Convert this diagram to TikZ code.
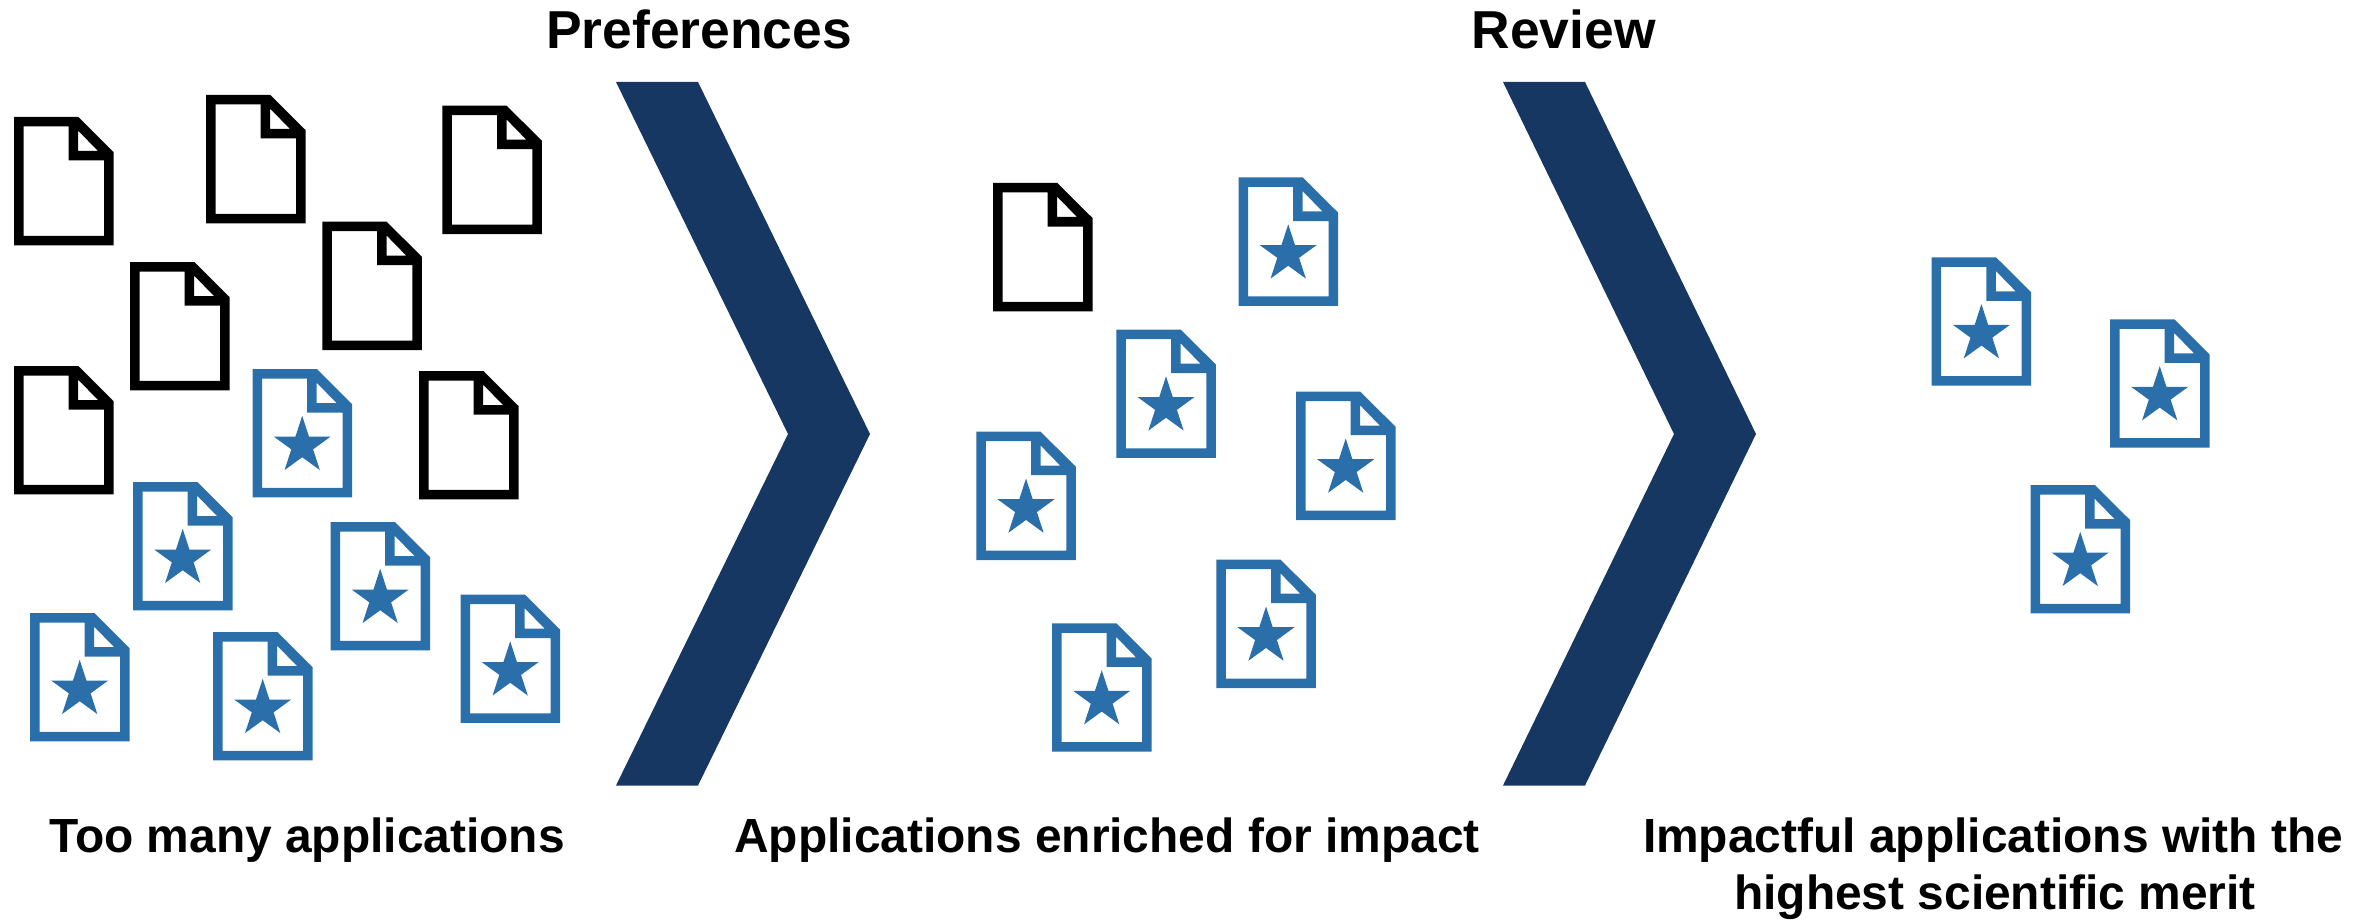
\documentclass[tikz,border=0pt]{standalone}
\usepackage{fontspec}
\setmainfont{Liberation Sans}
\definecolor{navy}{HTML}{173763}
\definecolor{iconblue}{HTML}{2A6EAA}
\tikzset{
  x=1pt,y=-1pt,
  lab/.style={font=\fontsize{47.9}{57.5}\selectfont\bfseries,inner sep=0pt,anchor=base,align=center},
  head/.style={font=\fontsize{53.4}{60}\selectfont\bfseries,inner sep=0pt,anchor=base west},
  chev/.style={fill=navy},
  pics/docicon/.style={code={
    \fill[#1,even odd rule] (0,0) -- (64.3,0) -- (99.5,35) -- (99.5,128.3) -- (0,128.3) -- cycle
      (9.5,9.5) -- (54.7,9.5) -- (54.7,43.5) -- (90,43.5) -- (90,118.8) -- (9.5,118.8) -- cycle
      (64.2,13.7) -- (84,34) -- (64.2,34) -- cycle;
  }},
  pics/stardoc/.style={code={
    \pic {docicon=iconblue};
    \fill[iconblue,shift={(49.7,76.8)}] (0,-30) -- (6.74,-9.27) -- (28.53,-9.27) -- (10.9,3.54) -- (17.63,24.27)
      -- (0,11.46) -- (-17.63,24.27) -- (-10.9,3.54) -- (-28.53,-9.27) -- (-6.74,-9.27) -- cycle;
  }}
}
\begin{document}
\begin{tikzpicture}
\useasboundingbox (0,0) rectangle (2371,920);
\foreach \p in {(14,117),(206,95),(442.3,105.7),(130,262),(322.3,221.7),(14,366),(419,371)}
  \pic at \p {docicon=black};
\foreach \p in {(252.5,369),(133,482),(330.5,522),(460.5,594.5),(30,613),(213,632)}
  \pic at \p {stardoc};
\pic at (993,183) {docicon=black};
\foreach \p in {(1238.5,177.5),(1116.3,329.5),(1296,391.7),(976.3,431.7),(1216.3,559.7),(1052,623.3)}
  \pic at \p {stardoc};
\foreach \p in {(1931.7,257.3),(2110,319.3),(2030.5,485)}
  \pic at \p {stardoc};
\fill[chev] (616,82) -- (698,82) -- (870,434) -- (698,785.5) -- (616,785.5) -- (788,434) -- cycle;
\fill[chev] (1503,82) -- (1585,82) -- (1756,434) -- (1585,785.5) -- (1503,785.5) -- (1674,434) -- cycle;
\node[head] (t1) at (546,49) {Preferences};
\node[head] (t2) at (1471.5,49) {Review};
\node[lab] (l1) at (307,852) {Too many applications};
\node[lab] (l2) at (1107,852) {Applications enriched for impact};
\node[lab] (l3a) at (1993,852) {Impactful applications with the};
\node[lab] (l3b) at (1995,909) {highest scientific merit};
\end{tikzpicture}
\end{document}
